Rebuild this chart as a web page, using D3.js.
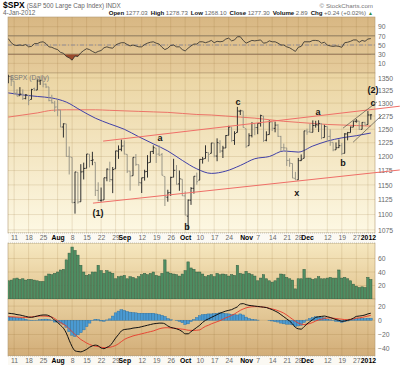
<!DOCTYPE html>
<html>
<head>
<meta charset="utf-8">
<script src="https://cdn.jsdelivr.net/npm/d3@7"></script>
<style>
	body { margin: 0; background: #fff; }
	svg { display: block; font-family: "Liberation Sans", Arial, sans-serif; }
</style>
</head>
<body>
<svg id="svg"></svg>
<script>

// -------------------------------------------------------------------------- //
// data

const dates = [
	"7/7","7/8","7/11","7/12","7/13","7/14","7/15","7/18","7/19","7/20","7/21","7/22","7/25","7/26","7/27","7/28","7/29",
	"8/1","8/2","8/3","8/4","8/5","8/8","8/9","8/10","8/11","8/12","8/15","8/16","8/17","8/18","8/19","8/22","8/23","8/24","8/25","8/26","8/29","8/30","8/31",
	"9/1","9/2","9/6","9/7","9/8","9/9","9/12","9/13","9/14","9/15","9/16","9/19","9/20","9/21","9/22","9/23","9/26","9/27","9/28","9/29","9/30",
	"10/3","10/4","10/5","10/6","10/7","10/10","10/11","10/12","10/13","10/14","10/17","10/18","10/19","10/20","10/21","10/24","10/25","10/26","10/27","10/28","10/31",
	"11/1","11/2","11/3","11/4","11/7","11/8","11/9","11/10","11/11","11/14","11/15","11/16","11/17","11/18","11/21","11/22","11/23","11/25","11/28","11/29","11/30",
	"12/1","12/2","12/5","12/6","12/7","12/8","12/9","12/12","12/13","12/14","12/15","12/16","12/19","12/20","12/21","12/22","12/23","12/27","12/28","12/29","12/30",
	"1/3","1/4"
];

const opens = [
	1339.6,1352.4,1343.3,1319.6,1314.5,1317.7,1308.9,1315.9,1307.1,1328.7,1325.7,1343.8,1344.3,1337.4,1331.9,1304.8,1300.1,
	1292.6,1286.6,1254.3,1260.2,1200.3,1198.5,1120.2,1171.8,1121.3,1172.9,1178.9,1204.2,1192.9,1189.6,1140.5,1123.6,1124.4,1162.2,1176.7,1158.9,1177.9,1209.8,1213.0,
	1219.1,1203.9,1174.0,1165.9,1198.0,1185.4,1153.5,1162.6,1173.3,1189.4,1209.2,1215.0,1204.5,1203.6,1164.6,1128.8,1136.9,1163.3,1175.4,1151.7,1159.9,
	1131.2,1097.4,1124.0,1144.1,1165.0,1158.2,1194.6,1196.2,1207.0,1205.7,1224.5,1200.8,1223.5,1209.9,1215.4,1238.7,1254.0,1229.2,1244.0,1284.4,1285.0,
	1251.0,1219.6,1238.3,1260.8,1253.2,1261.1,1275.2,1229.6,1240.1,1263.9,1251.7,1257.8,1236.6,1216.2,1215.6,1193.0,1187.5,1161.4,1158.7,1192.6,1196.7,
	1246.9,1246.0,1244.3,1257.2,1258.1,1260.9,1234.5,1255.1,1236.8,1225.7,1212.1,1216.1,1219.7,1205.7,1241.3,1243.7,1254.0,1265.0,1265.4,1249.8,1262.8,
	1258.9,1277.0
];

const highs = [
	1356.5,1352.4,1343.3,1327.2,1331.5,1327.1,1317.7,1315.9,1328.1,1330.4,1347.0,1346.1,1344.3,1338.5,1331.9,1316.3,1304.2,
	1307.4,1286.6,1261.2,1260.2,1218.1,1198.5,1172.9,1171.8,1186.3,1189.0,1204.5,1204.2,1208.5,1189.6,1154.5,1145.5,1162.4,1178.6,1190.7,1181.2,1210.3,1220.1,1230.7,
	1229.3,1203.9,1174.0,1198.6,1204.4,1185.4,1162.5,1176.4,1202.4,1209.1,1220.1,1215.0,1220.4,1206.3,1164.6,1141.7,1164.2,1195.9,1184.7,1175.1,1159.9,
	1139.0,1125.1,1146.1,1165.0,1171.4,1194.9,1199.2,1220.3,1207.5,1224.6,1224.5,1233.1,1229.6,1219.4,1239.0,1256.6,1254.0,1246.3,1292.7,1287.1,1285.0,
	1251.0,1242.5,1263.2,1260.8,1261.7,1277.6,1275.2,1246.2,1267.0,1263.9,1264.3,1259.6,1237.7,1223.5,1215.6,1196.8,1187.5,1172.7,1197.4,1203.7,1247.1,
	1251.1,1260.1,1266.7,1266.0,1267.1,1260.9,1258.3,1255.1,1249.9,1225.7,1225.6,1231.0,1224.6,1242.8,1245.1,1255.2,1265.4,1269.4,1265.9,1263.5,1264.1,
	1284.6,1278.7
];

const lows = [
	1339.6,1333.7,1316.4,1313.3,1314.5,1306.0,1307.4,1295.9,1307.1,1323.7,1325.7,1336.0,1331.1,1329.6,1303.5,1299.2,1282.9,
	1274.7,1254.0,1234.6,1199.5,1168.1,1119.3,1101.5,1118.0,1121.3,1159.4,1178.9,1180.5,1184.4,1131.0,1122.1,1121.1,1124.4,1156.3,1155.1,1135.9,1177.9,1195.8,1209.4,
	1203.9,1170.6,1140.1,1165.9,1183.3,1148.4,1136.1,1157.4,1162.7,1189.4,1204.5,1188.4,1201.3,1166.4,1114.2,1121.4,1131.1,1163.3,1150.4,1139.9,1131.3,
	1098.9,1074.8,1116.1,1135.0,1150.3,1158.2,1187.3,1196.2,1190.6,1205.7,1198.6,1191.5,1206.3,1197.3,1215.4,1238.7,1226.8,1221.1,1244.0,1277.0,1253.2,
	1215.4,1219.6,1234.8,1238.9,1240.8,1255.0,1226.6,1227.7,1240.1,1246.7,1244.3,1235.7,1209.4,1211.4,1183.2,1181.7,1161.8,1158.7,1158.7,1191.8,1196.7,
	1239.7,1243.4,1244.3,1253.0,1244.8,1231.5,1234.5,1227.3,1219.4,1209.5,1212.1,1215.2,1202.4,1205.7,1229.5,1243.7,1254.0,1262.3,1248.6,1249.8,1257.5,
	1258.9,1268.1
];

const closes = [
	1353.2,1343.8,1319.7,1313.6,1317.7,1308.9,1316.1,1305.4,1326.7,1325.8,1343.8,1345.0,1337.4,1331.9,1304.9,1300.7,1292.3,
	1286.9,1254.1,1260.3,1200.1,1199.4,1119.5,1172.5,1120.8,1172.6,1178.8,1204.5,1192.8,1193.9,1140.7,1123.5,1123.8,1162.4,1177.6,1159.3,1176.8,1210.1,1212.9,1218.9,
	1204.4,1174.0,1165.2,1198.6,1185.9,1154.2,1162.3,1172.9,1188.7,1209.1,1216.0,1204.1,1202.1,1166.8,1129.6,1136.4,1163.0,1175.4,1151.1,1160.4,1131.4,
	1099.2,1124.0,1144.0,1165.0,1155.5,1194.9,1195.5,1207.3,1203.7,1224.6,1200.9,1225.4,1209.9,1215.4,1238.3,1254.2,1229.1,1242.0,1284.6,1285.1,1253.3,
	1218.3,1237.9,1261.2,1253.2,1261.1,1275.9,1229.1,1239.7,1263.9,1251.8,1257.8,1236.9,1216.1,1215.7,1193.0,1188.0,1161.8,1158.7,1192.6,1195.2,1247.0,
	1244.6,1244.3,1257.1,1258.5,1261.0,1234.4,1255.2,1236.5,1225.7,1211.8,1215.8,1219.7,1205.4,1241.3,1243.7,1254.0,1265.3,1265.4,1249.6,1263.0,1257.6,
	1277.1,1277.3
];

// volume, in the panel's units
const volume = [
	27,28,30,31,29,30,28,29,29,28,27,26,26,34,37,36,38,
	40,43,44,58,68,77,72,65,50,40,35,36,40,40,50,42,38,42,40,38,30,33,34,
	35,30,33,32,30,33,36,38,36,38,40,35,34,38,58,40,38,37,36,34,37,
	42,55,46,44,40,40,37,33,35,36,33,38,36,37,36,34,36,35,50,38,37,
	41,38,36,34,27,31,36,30,27,25,27,31,37,36,32,30,28,15,30,30,44,
	31,31,29,30,33,30,30,31,32,31,31,43,31,32,30,27,22,19,17,18,17,
	32,29
];

const rsi = [
	64,55,50,49,50,49,51,46,47,53, 53,56,57,53,46,45,42,40,34,32,
	25,22,17,26,25,33,38,42,40,36, 33,36,38,44,46,44,43,50,53,55,
	55,51,48,50,48,46,46,51,54,56, 57,54,52,45,40,43,49,50,46,46,
	40,37,43,48,52,52,57,57,55,57, 60,55,58,57,58,63,65,59,61,68,
	68,60,54,57,60,59,60,61,54,55, 59,57,57,54,50,50,46,44,40,36,
	45,47,57,57,57,60,60,59,54,56, 50,48,47,48,47,45,55,56,58,61,
	61,56,60,58,63,64
];

const macd = [
	10,9.5,9,8,7.5,6.5,5.5,4.5,4.2,5, 6,7,7.5,7.5,6.5,4,0,-3,-7,-11,
	-18,-28,-37,-43,-44,-44.5,-43,-41,-38,-36, -35,-36,-39,-40,-38,-36,-31,-25,-20,-15,
	-13,-12.5,-12,-11,-10.5,-10,-9,-8,-7,-6, -5,-4.5,-4,-4,-5,-8,-10,-11,-12,-13.5,
	-16,-19,-19,-16,-13,-10,-7,-3,0,2, 4,6,8,10,11.5,13,14,15,17,19,
	23,23.5,22,21,20.5,20,19.5,19,18.5,18, 16.5,15,13,11,8,5,2,-1,-5,-10,
	-12,-12.5,-9,-5,-2,1,4,5,5.5,6, 5,4,2.5,1,0,-1.5,-1,0,1,3,
	5.5,6,6.5,7.5,9,10
];

const signal = [
	5,5,4.8,4.5,4.3,4.1,4,4.2,4.8,5.3, 5.8,6,6,5.8,5.3,4.5,2.5,-0.5,-3,-5.5,
	-8,-12,-16,-20,-23.5,-27,-29.5,-32,-34,-35.5, -36.5,-37,-38,-38.5,-38.5,-38,-37,-35.5,-33,-30,
	-27,-25,-23.5,-22,-21,-20,-19,-18,-17,-16, -15,-13.5,-12,-11,-10.5,-10.5,-10.8,-11,-11.5,-12,
	-12.5,-13,-14,-14.2,-14.2,-14,-13.5,-11,-8.5,-7, -5,-3.5,-2,-0.5,1.5,3.5,5,7,9,11.5,
	14,16,17.5,18.5,19,19.2,19.2,19,18.5,18, 17,16,15,13.5,12,10,7.5,4.5,1.5,-1.5,
	-4,-5.5,-6,-5.5,-4.5,-3,-1,0.5,1.5,2.5, 3.3,3.3,3,2.5,2,1.5,1,1,1.5,2,
	3,3.5,4,5,6,7
];

const histogram = [
	5,4.5,4.2,3.5,3.2,2.4,1.5,0.3,-0.6,-0.3, 0.2,1,1.5,1.7,1.2,-0.5,-2.5,-2.5,-4,-5.5,
	-10,-16,-21,-23,-20.5,-17.5,-13.5,-9,-4,-0.5, 1.5,1,-1,-1.5,0.5,2,6,10.5,13,15,
	14,12.5,11.5,11,10.5,10,10,10,10,10, 10,9,8,7,5.5,2.5,0.8,0,-0.5,-1.5,
	-3.5,-6,-5,-1.8,1.2,4,6.5,8,8.5,9, 9,9.5,10,10.5,10,9.5,9,8,8,7.5,
	9,7.5,4.5,2.5,1.5,0.8,0.3,0,0,0, -0.5,-1,-2,-2.5,-4,-5,-5.5,-5.5,-6.5,-8.5,
	-8,-7,-3,0.5,2.5,4,5,4.5,4,3.5, 1.7,0.7,-0.5,-1.5,-2,-3,-2,-1,-0.5,1,
	2.5,2.5,2.5,2.5,3,3
];

// moving averages, read every 5th bar
const maIdx = [0,5,10,15,20,25,30,35,40,45,50,55,60,65,70,75,80,85,90,95,100,105,110,115,120,125];
const ma50 = [1320,1316,1313,1310,1302,1286,1271,1260,1250,1236,1223,1210,1193,1178,1170,1174,1184,1196,1200,1210,1208,1219,1228,1234,1238,1243];
const ma200 = [1273,1277,1281,1286,1287,1287,1287,1286,1285,1284,1283,1282,1280,1278,1277,1275,1273,1271,1268,1265,1263,1261,1259,1258,1257,1256];

// drawn trendlines: [bar index, price] end points
const channelLines = [
	[[32.7, 1228], [135, 1294]],
	[[29.2, 1119], [135, 1176]]
];
const wedgeLines = [
	[[115.4, 1252], [127.1, 1302]],
	[[118.9, 1226], [128.9, 1277]]
];

const waveText = ["a", "(1)", "b", "c", "x", "a", "b", "(2)", "c"];
const waveIdx = [52.3, 30.9, 61.6, 79.2, 99.5, 106.8, 115.4, 125.8, 125.8];
const wavePrice = [1234, 1103, 1080, 1303, 1136, 1283, 1188, 1326, 1301];

const tickDates = ["7/11","7/18","7/25","8/1","8/8","8/15","8/22","8/29","9/1","9/12","9/19","9/26",
	"10/3","10/10","10/17","10/24","11/1","11/7","11/14","11/21","11/28","12/1","12/12","12/19","12/27","1/3"];
const tickText = ["11","18","25","Aug","8","15","22","29","Sep","12","19","26",
	"Oct","10","17","24","Nov","7","14","21","28","Dec","12","19","27","2012"];

const priceTicks = [1075,1100,1125,1150,1175,1200,1225,1250,1275,1300,1325,1350];
const rsiTicks = [90,70,50,30,10];
const volTicks = [60,40,20];
const macdTicks = [20,0,-20,-40];

// -------------------------------------------------------------------------- //
// layout

let width = 400,
	height = 365,
	plotL = 8,
	plotR = 375,
	rsiTop = 17, rsiBot = 73,
	priceTop = 73, priceBot = 233,
	volTop = 243, volBot = 299,
	macdTop = 299, macdBot = 356,
	gridCol = "rgba(140,100,40,0.22)",
	labelCol = "#6a6a6a";

const svg = d3.select("svg#svg")
	.attr("width", width)
	.attr("height", height);

const tickIdx = tickDates.map(d => dates.indexOf(d));

const x = d3.scaleLinear().domain([-0.5, 126.5]).range([6.85, 375.15]);
const yP = d3.scaleLog().domain([1070, 1360]).range([priceBot, priceTop]);
const yR = d3.scaleLinear().domain([-11, 111]).range([rsiBot, rsiTop]);
const yV = d3.scaleLinear().domain([0, 83]).range([volBot, volTop]);
const yM = d3.scaleLinear().domain([-50.3, 30]).range([macdBot, macdTop]);

// -------------------------------------------------------------------------- //
// backgrounds

const defs = svg.append("defs");

function gradient(id, c0, c1) {
	const g = defs.append("linearGradient").attr("id", id)
		.attr("x1", 0).attr("y1", 0).attr("x2", 0).attr("y2", 1);
	g.append("stop").attr("offset", "0%").attr("stop-color", c0);
	g.append("stop").attr("offset", "100%").attr("stop-color", c1);
}
gradient("gRsi", "#d8b783", "#e6cc9c");
gradient("gPrice", "#ebd5a3", "#fdf8e3");
gradient("gVol", "#f6e8c0", "#e2c48f");
gradient("gMacd", "#e9d1a1", "#d2ad78");

function clip(id, x0, y0, w, h) {
	defs.append("clipPath").attr("id", id)
		.append("rect").attr("x", x0).attr("y", y0).attr("width", w).attr("height", h);
}
clip("cRsi", plotL, rsiTop, plotR - plotL, rsiBot - rsiTop);
clip("cPrice", plotL, priceTop, plotR - plotL, priceBot - priceTop);
clip("cPriceWide", plotL, priceTop, width - plotL, priceBot - priceTop);
clip("cVol", plotL, volTop, plotR - plotL, volBot - volTop);
clip("cMacd", plotL, macdTop, plotR - plotL, macdBot - macdTop);
clip("cRsiLow", plotL, yR(30), plotR - plotL, rsiBot - yR(30));

function panel(top, bot, fill, yScale, ticks) {
	svg.append("rect")
		.attr("x", plotL).attr("y", top)
		.attr("width", plotR - plotL).attr("height", bot - top)
		.attr("fill", `url(#${fill})`)
		.attr("stroke", "#b39a72").attr("stroke-width", 0.6);

	svg.append("g").selectAll("line")
		.data(tickIdx)
		.enter().append("line")
		.attr("x1", d => x(d)).attr("x2", d => x(d))
		.attr("y1", top).attr("y2", bot)
		.attr("stroke", gridCol).attr("stroke-width", 0.7);

	svg.append("g").selectAll("line")
		.data(ticks)
		.enter().append("line")
		.attr("x1", plotL).attr("x2", plotR)
		.attr("y1", d => yScale(d)).attr("y2", d => yScale(d))
		.attr("stroke", gridCol).attr("stroke-width", 0.7);

	const ax = svg.append("g")
		.attr("transform", `translate(${plotR},0)`)
		.call(d3.axisRight(yScale).tickValues(ticks).tickFormat(d3.format("d"))
			.tickSize(0).tickPadding(3));
	ax.select(".domain").remove();
	ax.attr("font-family", null).attr("font-size", 6.8);
	ax.selectAll("text").attr("fill", labelCol);
}

panel(rsiTop, rsiBot, "gRsi", yR, rsiTicks);
panel(priceTop, priceBot, "gPrice", yP, priceTicks);
panel(volTop, volBot, "gVol", yV, volTicks);
panel(macdTop, macdBot, "gMacd", yM, macdTicks);

// date axes
function dateAxis(top, pad) {
	svg.append("rect")
		.attr("x", plotL).attr("y", top)
		.attr("width", plotR - plotL).attr("height", 10)
		.attr("fill", "#fbf9f3");
	[top, top + 10].forEach(yy => {
		svg.append("line")
			.attr("x1", plotL).attr("x2", plotR).attr("y1", yy).attr("y2", yy)
			.attr("stroke", "#a9a49a").attr("stroke-width", 0.6)
			.attr("stroke-dasharray", "1,1");
	});
	const ax = svg.append("g")
		.attr("transform", `translate(0,${top})`)
		.call(d3.axisBottom(x).tickValues(tickIdx)
			.tickFormat((d, i) => tickText[i]).tickSize(0).tickPadding(pad));
	ax.select(".domain").remove();
	ax.attr("font-family", null).attr("font-size", 6.8);
	ax.selectAll("text")
		.attr("fill", (d, i) => tickText[i].length > 2 ? "#000" : labelCol)
		.attr("font-weight", (d, i) => tickText[i].length > 2 ? "bold" : "normal");
}
dateAxis(priceBot, 2.3);
dateAxis(macdBot, 1.8);

// -------------------------------------------------------------------------- //
// RSI

svg.append("g").selectAll("line")
	.data([70, 50, 30])
	.enter().append("line")
	.attr("x1", plotL).attr("x2", plotR)
	.attr("y1", d => yR(d)).attr("y2", d => yR(d))
	.attr("stroke", d => d == 50 ? "#8c8a98" : "#8a7a62")
	.attr("stroke-width", 0.9)
	.attr("stroke-dasharray", d => d == 50 ? "4,2,1,2" : null);

svg.append("path")
	.datum(rsi)
	.attr("clip-path", "url(#cRsiLow)")
	.attr("fill", "#9b4a2c")
	.attr("d", d3.area().x((d, i) => x(i)).y0(yR(30)).y1(d => yR(d)));

svg.append("path")
	.datum(rsi)
	.attr("clip-path", "url(#cRsi)")
	.attr("fill", "none")
	.attr("stroke", "#2a2a2a")
	.attr("stroke-width", 0.8)
	.attr("d", d3.line().x((d, i) => x(i)).y(d => yR(d)));

// -------------------------------------------------------------------------- //
// price

const gPrice = svg.append("g").attr("clip-path", "url(#cPrice)");

gPrice.append("path")
	.datum(ma200)
	.attr("fill", "none").attr("stroke", "#ec7468").attr("stroke-width", 1)
	.attr("d", d3.line().x((d, i) => x(maIdx[i])).y(d => yP(d)).curve(d3.curveMonotoneX));

gPrice.append("path")
	.datum(ma50)
	.attr("fill", "none").attr("stroke", "#4040a8").attr("stroke-width", 1)
	.attr("d", d3.line().x((d, i) => x(maIdx[i])).y(d => yP(d)).curve(d3.curveMonotoneX));

svg.append("g").attr("clip-path", "url(#cPriceWide)")
	.selectAll("line")
	.data(channelLines)
	.enter().append("line")
	.attr("x1", d => x(d[0][0])).attr("y1", d => yP(d[0][1]))
	.attr("x2", d => x(d[1][0])).attr("y2", d => yP(d[1][1]))
	.attr("stroke", "#ef6f68").attr("stroke-width", 1);

svg.append("g").attr("clip-path", "url(#cPriceWide)")
	.selectAll("line")
	.data(wedgeLines)
	.enter().append("line")
	.attr("x1", d => x(d[0][0])).attr("y1", d => yP(d[0][1]))
	.attr("x2", d => x(d[1][0])).attr("y2", d => yP(d[1][1]))
	.attr("stroke", "#55524a").attr("stroke-width", 0.7);

gPrice.selectAll("path.bar")
	.data(closes)
	.enter().append("path")
	.attr("class", "bar")
	.attr("fill", "none")
	.attr("stroke", (d, i) => d >= (i ? closes[i - 1] : opens[i]) ? "#303030" : "#9a9789")
	.attr("stroke-width", 1)
	.attr("d", (d, i) => {
		const cx = x(i);
		return `M${cx},${yP(highs[i])}V${yP(lows[i])}` +
			`M${cx - 1.3},${yP(opens[i])}H${cx}` +
			`M${cx},${yP(d)}H${cx + 1.3}`;
	});

svg.append("text")
	.attr("x", 10).attr("y", 80)
	.attr("font-size", 6.8).attr("fill", "#777")
	.text("$SPX (Daily)");

svg.append("g").selectAll("text")
	.data(waveText)
	.enter().append("text")
	.attr("x", (d, i) => x(waveIdx[i]))
	.attr("y", (d, i) => yP(wavePrice[i]))
	.attr("dy", "0.35em")
	.attr("text-anchor", "middle")
	.attr("font-size", 9)
	.attr("font-weight", "bold")
	.attr("fill", "#141414")
	.text(d => d);

// -------------------------------------------------------------------------- //
// volume

svg.append("g").attr("clip-path", "url(#cVol)")
	.selectAll("rect")
	.data(volume)
	.enter().append("rect")
	.attr("x", (d, i) => x(i) - 1.2)
	.attr("width", 2.4)
	.attr("y", d => yV(d))
	.attr("height", d => yV(0) - yV(d))
	.attr("fill", "#4f8f63")
	.attr("stroke", "#355e42").attr("stroke-width", 0.5);

// -------------------------------------------------------------------------- //
// MACD

const gMacd = svg.append("g").attr("clip-path", "url(#cMacd)");

gMacd.selectAll("rect")
	.data(histogram)
	.enter().append("rect")
	.attr("x", (d, i) => x(i) - 1.45)
	.attr("width", 2.9)
	.attr("y", d => yM(Math.max(0, d)))
	.attr("height", d => Math.abs(yM(d) - yM(0)))
	.attr("fill", "#4a9ad2")
	.attr("stroke", "#2e6f9e").attr("stroke-width", 0.4);

gMacd.append("path")
	.datum(signal)
	.attr("fill", "none").attr("stroke", "#e8392a").attr("stroke-width", 0.9)
	.attr("d", d3.line().x((d, i) => x(i)).y(d => yM(d)).curve(d3.curveMonotoneX));

gMacd.append("path")
	.datum(macd)
	.attr("fill", "none").attr("stroke", "#111").attr("stroke-width", 1)
	.attr("d", d3.line().x((d, i) => x(i)).y(d => yM(d)).curve(d3.curveMonotoneX));

// -------------------------------------------------------------------------- //
// header

const t1 = svg.append("text").attr("x", 3).attr("y", 7.5);
t1.append("tspan").attr("font-size", 8.5).attr("font-weight", "bold").text("$SPX");
t1.append("tspan").attr("font-size", 6.3).attr("fill", "#666").attr("dx", 2)
	.text("(S&P 500 Large Cap Index) INDX");

svg.append("text")
	.attr("x", 373).attr("y", 7.5).attr("text-anchor", "end")
	.attr("font-size", 6.2).attr("fill", "#777")
	.text("© StockCharts.com");

svg.append("text")
	.attr("x", 3).attr("y", 15.2)
	.attr("font-size", 6.4).attr("fill", "#666")
	.text("4-Jan-2012");

const quote = [
	["Open", "1277.03"], ["High", "1278.73"], ["Low", "1268.10"],
	["Close", "1277.30"], ["Volume", "2.89"], ["Chg", "+0.24 (+0.02%)"]
];
const t2 = svg.append("text").attr("x", 366).attr("y", 15.2)
	.attr("text-anchor", "end").attr("font-size", 6.1);
quote.forEach((q, i) => {
	t2.append("tspan").attr("font-weight", "bold").attr("fill", "#111")
		.attr("dx", i ? 3 : 0).text(q[0]);
	t2.append("tspan").attr("fill", "#666").attr("dx", 1.5).text(q[1]);
});
svg.append("text")
	.attr("x", 368).attr("y", 15.2)
	.attr("font-size", 5).attr("fill", "#2f8a3a")
	.text("▲");

</script>
</body>
</html>
